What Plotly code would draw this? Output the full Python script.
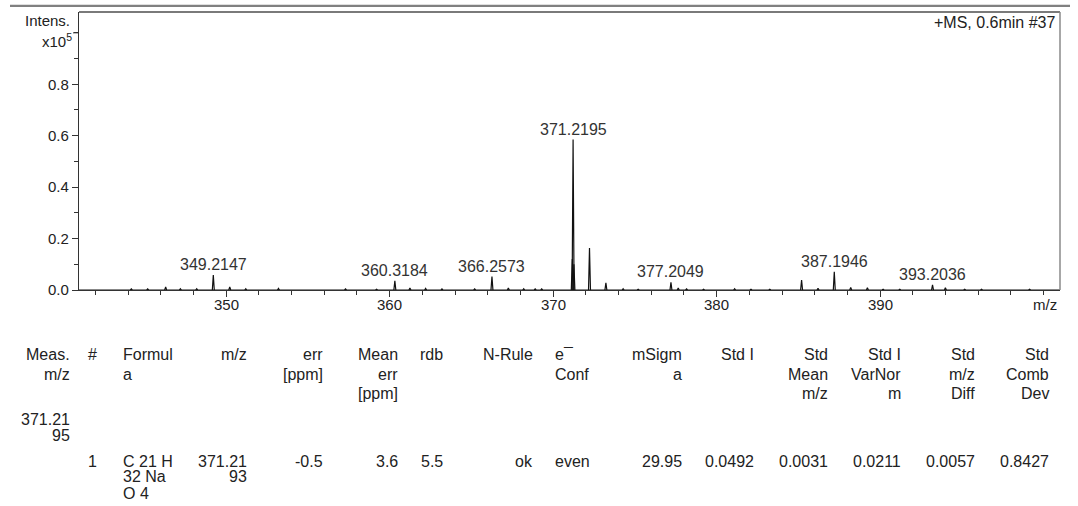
import plotly.graph_objects as go

# ---------------- spectrum data (intensity in units of 1e5) ----------------
labeled_mz = [349.2147, 360.3184, 366.2573, 371.2195, 377.2049, 387.1946, 393.2036]
labeled_int = [0.058, 0.036, 0.052, 0.585, 0.030, 0.071, 0.020]

other_mz = [344.2, 345.2, 346.3, 347.2, 348.2, 350.22, 351.2, 353.2,
            357.3, 359.2, 361.24, 362.2, 363.2, 365.2, 367.26, 368.2, 368.9, 369.3,
            371.17, 371.27, 372.223, 373.226, 374.28, 375.2, 377.65, 378.16, 379.2,
            381.1, 382.1, 383.25, 385.195, 386.2, 388.2, 389.22, 390.18, 391.2,
            393.99, 395.17, 396.2, 399.14]
other_int = [0.004, 0.004, 0.012, 0.005, 0.005, 0.012, 0.005, 0.006,
             0.004, 0.003, 0.008, 0.006, 0.004, 0.004, 0.008, 0.005, 0.004, 0.004,
             0.120, 0.100, 0.163, 0.028, 0.005, 0.003, 0.008, 0.004, 0.003,
             0.005, 0.003, 0.003, 0.039, 0.007, 0.010, 0.009, 0.003, 0.003,
             0.009, 0.003, 0.003, 0.003]

x_ticks = [350, 360, 370, 380, 390]
y_ticks = [0.0, 0.2, 0.4, 0.6, 0.8]
y_ticktext = ["0.0", "0.2", "0.4", "0.6", "0.8"]
y_top_tick = 1.0

# ---------------- formula table ----------------
# header columns: (lines, anchor x in px, alignment)
header_cols = [
    (["Meas.", "m/z"], 72, "right"),
    (["#"], 99, "right"),
    (["Formul", "a"], 121, "left"),
    (["m/z"], 249, "right"),
    (["err", "[ppm]"], 325, "right"),
    (["Mean", "err", "[ppm]"], 400, "right"),
    (["rdb"], 445, "right"),
    (["N-Rule"], 535, "right"),
    (["e¯", "Conf"], 553, "left"),
    (["mSigm", "a"], 684, "right"),
    (["Std I"], 756, "right"),
    (["Std", "Mean", "m/z"], 830, "right"),
    (["Std I", "VarNor", "m"], 903, "right"),
    (["Std", "m/z", "Diff"], 977, "right"),
    (["Std", "Comb", "Dev"], 1051, "right"),
]
meas_mz_lines = ["371.21", "95"]
row_cells = [
    (["1"], 99, "right"),
    (["C 21 H", "32 Na", "O 4"], 121, "left"),
    (["371.21", "93"], 249, "right"),
    (["-0.5"], 325, "right"),
    (["3.6"], 400, "right"),
    (["5.5"], 445, "right"),
    (["ok"], 535, "right"),
    (["even"], 553, "left"),
    (["29.95"], 684, "right"),
    (["0.0492"], 756, "right"),
    (["0.0031"], 830, "right"),
    (["0.0211"], 903, "right"),
    (["0.0057"], 977, "right"),
    (["0.8427"], 1051, "right"),
]

# ---------------- geometry ----------------
W, H = 1078, 506
L, R, T, B = 79, 1060, 12, 290
PW, PH = R - L, B - T
FONT = "Arial, Liberation Sans, sans-serif"
TXT = "#222222"


def px(x):
    return (x - L) / PW


def py(y):
    return (B - y) / PH


# build stick profile: each peak drawn as a thin triangle on the baseline
HW = 0.06
xs, ys = [341, 401, None], [0, 0, None]
for m, h in zip(labeled_mz + other_mz, labeled_int + other_int):
    xs += [m - HW, m, m + HW, None]
    ys += [0, h, 0, None]

fig = go.Figure()
fig.add_trace(go.Scatter(x=xs, y=ys, mode="lines",
                         line=dict(color="#111111", width=1.2),
                         hoverinfo="skip", showlegend=False))

annotations = []
for m, h in zip(labeled_mz, labeled_int):
    annotations.append(dict(x=m, y=h, xref="x", yref="y", text=f"{m:.4f}",
                            showarrow=False, xanchor="center", yanchor="bottom",
                            yshift=0, font=dict(family=FONT, size=16, color="#333333")))

# x tick labels sit close under the axis
for v in x_ticks:
    annotations.append(dict(x=v, y=py(304), xref="x", yref="paper", text=str(v),
                            showarrow=False, xanchor="center", yanchor="middle",
                            font=dict(family=FONT, size=15, color=TXT)))

annotations += [
    dict(x=px(72), y=py(20), xref="paper", yref="paper", text="Intens.",
         showarrow=False, xanchor="right", yanchor="middle",
         font=dict(family=FONT, size=15, color=TXT)),
    dict(x=px(74), y=py(40), xref="paper", yref="paper", text="x10<sup>5</sup>",
         showarrow=False, xanchor="right", yanchor="middle",
         font=dict(family=FONT, size=15, color=TXT)),
    dict(x=px(1058), y=py(22), xref="paper", yref="paper", text="+MS, 0.6min #37",
         showarrow=False, xanchor="right", yanchor="middle",
         font=dict(family=FONT, size=16, color=TXT)),
    dict(x=px(1045), y=py(304), xref="paper", yref="paper", text="m/z",
         showarrow=False, xanchor="center", yanchor="middle",
         font=dict(family=FONT, size=15, color=TXT)),
]

header_y = [355, 374.5, 394]
for lines, xa, al in header_cols:
    for i, t in enumerate(lines):
        annotations.append(dict(x=px(xa), y=py(header_y[i]), xref="paper", yref="paper",
                                text=t, showarrow=False, xanchor=al, yanchor="middle",
                                font=dict(family=FONT, size=16, color=TXT)))

for i, t in enumerate(meas_mz_lines):
    annotations.append(dict(x=px(72), y=py([419, 436][i]), xref="paper", yref="paper",
                            text=t, showarrow=False, xanchor="right", yanchor="middle",
                            font=dict(family=FONT, size=16, color=TXT)))

row_y = [461, 476.5, 493]
for lines, xa, al in row_cells:
    for i, t in enumerate(lines):
        annotations.append(dict(x=px(xa), y=py(row_y[i]), xref="paper", yref="paper",
                                text=t, showarrow=False, xanchor=al, yanchor="middle",
                                font=dict(family=FONT, size=16, color=TXT)))

shapes = [
    # page rule above the plot
    dict(type="line", xref="paper", yref="paper", x0=px(10), x1=px(1070),
         y0=py(5.8), y1=py(5.8), line=dict(color="#808080", width=2.2)),
    # top and right frame of the plot
    dict(type="line", xref="paper", yref="paper", x0=0, x1=1, y0=1, y1=1,
         line=dict(color="#7a7a7a", width=2)),
    dict(type="line", xref="paper", yref="paper", x0=1, x1=1, y0=0, y1=1,
         line=dict(color="#8a8a8a", width=1.5)),
    # unlabeled major tick at the top of the intensity axis
    dict(type="line", xref="paper", yref="y", x0=-6 / PW, x1=0,
         y0=y_top_tick, y1=y_top_tick, line=dict(color="#333333", width=1)),
]

fig.update_layout(
    width=W, height=H,
    margin=dict(l=L, r=W - R, t=T, b=H - B),
    paper_bgcolor="white", plot_bgcolor="white",
    font=dict(family=FONT, size=16, color=TXT),
    annotations=annotations, shapes=shapes,
    xaxis=dict(range=[341, 401], tickvals=x_ticks, ticks="outside", ticklen=6,
               tickcolor="#333333", tickwidth=1, showline=True, linecolor="#333333",
               linewidth=1, showgrid=False, zeroline=False, showticklabels=False,
               minor=dict(dtick=2, tick0=0, ticks="outside", ticklen=4,
                          tickcolor="#333333", showgrid=False)),
    yaxis=dict(range=[0, 1.081], tickvals=y_ticks, ticktext=y_ticktext,
               ticks="outside", ticklen=6, tickcolor="#333333", tickwidth=1,
               showline=True, linecolor="#333333", linewidth=1.2, showgrid=False,
               zeroline=False, tickfont=dict(family=FONT, size=15, color=TXT),
               minor=dict(dtick=0.1, tick0=0, ticks="outside", ticklen=4,
                          tickcolor="#333333", showgrid=False)),
)

fig.write_html("out.html")
